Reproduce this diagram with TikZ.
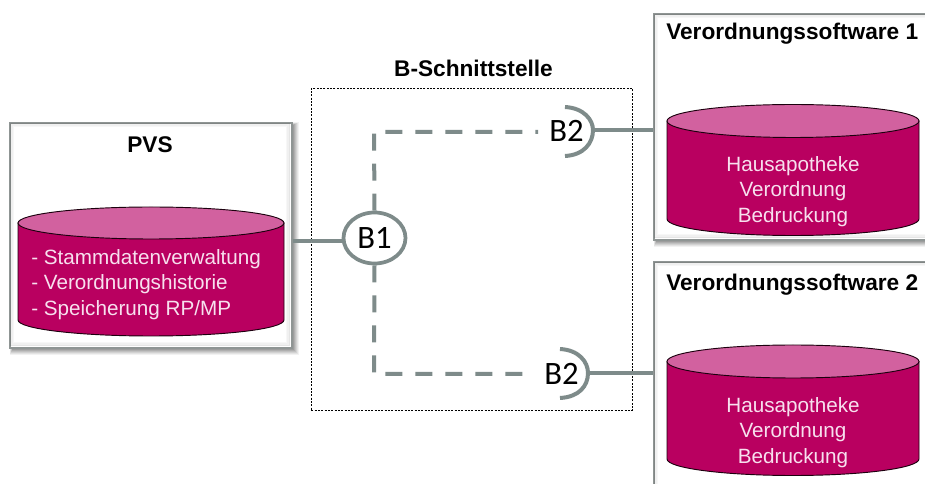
\documentclass[tikz,border=0pt]{standalone}
\usepackage{fontspec}
\setmainfont{Liberation Sans}
\newfontfamily\calib{Carlito}
\usetikzlibrary{positioning,shapes.geometric}
\definecolor{linegray}{HTML}{7E8B8A}
\definecolor{boxgray}{HTML}{8F9594}
\definecolor{magbody}{HTML}{B90060}
\definecolor{magtop}{HTML}{D2619F}
\definecolor{softtext}{HTML}{F7E0EE}
\tikzset{
  x=0.75pt,y=-0.75pt,
  panel/.style={draw=boxgray,line width=1.2pt,fill=white,rectangle,inner sep=0pt,anchor=north west},
  heading/.style={font=\bfseries\fontsize{17}{20}\selectfont,text=black,inner sep=0pt},
  cyltext/.style={font=\fontsize{15.5}{18.9}\selectfont,text=softtext,inner sep=0pt},
  conn/.style={draw=linegray,line width=2.8pt},
  dashconn/.style={draw=linegray,line width=3pt,dash pattern=on 12.75pt off 9.75pt},
  portlabel/.style={font=\calib\fontsize{24.5}{28}\selectfont,text=black,inner sep=0pt},
  cylbody/.style={fill=magbody,draw=black!85!magbody,line width=0.7pt},
  cyltop/.style={fill=magtop,draw=black!85!magbody,line width=0.7pt},
}
% #1 left, #2 right, #3 top-ellipse centre y, #4 side bottom y, #5 ry
\newcommand{\drumshape}[5]{%
  \path[cylbody] (#1,#3) -- (#1,#4) arc[start angle=180,end angle=360,x radius={(#2-#1)/2},y radius=-#5]
     -- (#2,#3) -- cycle;
  \path[cyltop] ({(#1+#2)/2},#3) ellipse[x radius={(#2-#1)/2},y radius=#5];
}
% soft drop shadow for a panel: #1 left, #2 top, #3 right, #4 bottom
\newcommand{\softshadow}[4]{%
  \foreach \d/\o in {7/0.05,6/0.06,5/0.07,4/0.08,3/0.09,2/0.10}{%
    \fill[black,opacity=\o] (#1+4-\d/2,#2+4-\d/2) rectangle (#3+1+\d,#4+1+\d);
  }%
}
% faint inner glow along a panel's edge
\newcommand{\innerglow}[4]{%
  \foreach \d/\o in {1.5/0.10,3/0.06,4.5/0.03}{%
    \draw[black,opacity=\o,line width=1.1pt] (#1+\d,#2+\d) rectangle (#3-\d,#4-\d);
  }%
}
\begin{document}
\begin{tikzpicture}
\useasboundingbox (0,0) rectangle (925,484);
\clip (0,0) rectangle (925,484);
\fill[white] (0,0) rectangle (925,484);

% panels
\softshadow{9}{122}{291}{347}
\softshadow{653}{13}{960}{239}
\softshadow{653}{261}{960}{520}
\node[panel,minimum width=282*0.75pt,minimum height=225*0.75pt] (pvs) at (9,122) {};
\node[panel,minimum width=307*0.75pt,minimum height=226*0.75pt] (vs1) at (653,13) {};
\node[panel,minimum width=307*0.75pt,minimum height=259*0.75pt] (vs2) at (653,261) {};
\innerglow{9}{122}{291}{347}
\innerglow{653}{13}{960}{239}
\innerglow{653}{261}{960}{520}

% interface frame
\node[draw=black,line width=0.6pt,dash pattern=on 1.5pt off 1pt,rectangle,anchor=north west,
      minimum width=321*0.75pt,minimum height=322*0.75pt,inner sep=0pt] (frame) at (311,88) {};
\node[heading] (frametitle) at (473.5,68) {B-Schnittstelle};

% drums
\drumshape{18}{284}{223}{320}{16}
\drumshape{667}{919}{121}{219}{16.5}
\drumshape{667}{919}{361.5}{459}{16.5}

\node[heading] (pvstitle) at (150,144.5) {PVS};
\node[heading,anchor=west] (vs1title) at (666,33.5) {Verordnungssoftware 1};
\node[heading,anchor=west] (vs2title) at (666,284.5) {Verordnungssoftware 2};

\node[cyltext,align=left,anchor=north west] (pvstext) at (31,249.5) {- Stammdatenverwaltung\\- Verordnungshistorie\\- Speicherung RP/MP};
\node[cyltext,align=center] (vs1text) at (793,191.5) {Hausapotheke\\Verordnung\\Bedruckung};
\node[cyltext,align=center] (vs2text) at (793,432.5) {Hausapotheke\\Verordnung\\Bedruckung};

% ports
\node[draw=linegray,line width=2.8pt,fill=white,ellipse,minimum width=62*0.75pt,minimum height=51*0.75pt,inner sep=0pt,
      font=\calib\fontsize{24.5}{28}\selectfont] (bone) at (374.5,238) {B1};
\coordinate (btwoA) at (593,130);
\coordinate (btwoB) at (588,373);
\node[portlabel] (labA) at (566.5,131) {B2};
\node[portlabel] (labB) at (561.5,374) {B2};

% arcs
\draw[linegray,line width=3pt] (565,107) .. controls (584,108) and (593,120) .. (btwoA) .. controls (593,143) and (584,155) .. (565,156);
\draw[linegray,line width=3pt] (560,349) .. controls (579,350) and (588,362) .. (btwoB) .. controls (588,386) and (579,397) .. (560,398);

% connectors
\coordinate (elbowA) at (374,132);
\coordinate (endA) at (538,132);
\coordinate (elbowB) at (374,374);
\coordinate (endB) at (530,374);
\draw[dashconn] (bone.north) -- (elbowA) -- (endA);
\draw[dashconn] (bone.south) -- (elbowB) -- (endB);
\draw[conn] (pvs.east |- 0,241) -- (bone.west |- 0,241);
\draw[conn] (btwoA) -- (vs1.west |- btwoA);
\draw[conn] (btwoB) -- (vs2.west |- btwoB);
\end{tikzpicture}
\end{document}
